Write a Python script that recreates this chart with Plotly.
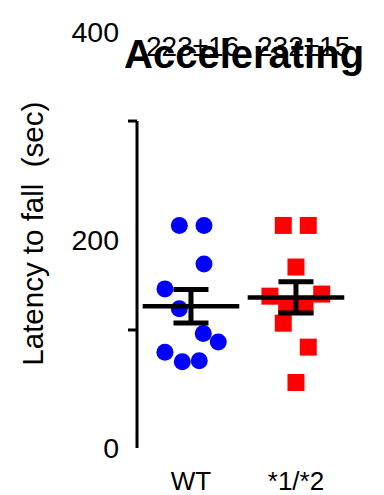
import numpy as np
import plotly.graph_objects as go

# ---- data ----
groups = ["WT", "*1/*2"]
wt_values = [214, 214, 177, 153, 134, 110, 102, 92, 83, 84]
wt_jitter = [-0.111, 0.124, 0.124, -0.248, -0.111, 0.117, 0.260, -0.248, -0.083, 0.079]
mut_values = [214, 214, 174, 146, 148, 136, 136, 120, 97, 63]
mut_jitter = [-0.121, 0.117, 0.0, -0.248, 0.245, -0.089, 0.086, -0.121, 0.117, 0.0]
summary_labels = ["223±16", "232±15"]
y_tickvals = [0, 200, 400]
y_ticktext = ["0", "200", "400"]
axis_marks = [113.5, 314.4]
title_text = "Accelerating"
y_title = "Latency to fall  (sec)"

FONT = "Liberation Sans, Arial, Helvetica, sans-serif"

fig = go.Figure()

series = [
    (0, wt_values, wt_jitter, "#0000FF", "circle"),
    (1, mut_values, mut_jitter, "#FF0000", "square"),
]
for pos, vals, jit, col, sym in series:
    fig.add_trace(go.Scatter(
        x=[pos + j for j in jit], y=vals, mode="markers",
        marker=dict(symbol=sym, size=17, color=col, line=dict(width=0)),
        showlegend=False, hoverinfo="skip"))

for pos, vals, jit, col, sym in series:
    arr = np.array(vals, dtype=float)
    mean = arr.mean()
    sem = arr.std(ddof=1) / np.sqrt(len(arr))
    fig.add_trace(go.Scatter(
        x=[pos], y=[mean], mode="markers",
        marker=dict(symbol="line-ew", size=69, color="black",
                    line=dict(width=4.5, color="black")),
        error_y=dict(type="data", array=[sem], visible=True,
                     thickness=5, width=17.5, color="black"),
        showlegend=False, hoverinfo="skip"))

# axis line with its marks
fig.add_shape(type="line", xref="paper", yref="y", x0=0, x1=0,
              y0=0, y1=max(axis_marks), line=dict(color="black", width=3))
for m in axis_marks:
    fig.add_shape(type="line", xref="paper", yref="y", xsizemode="pixel",
                  xanchor=0, x0=-9, x1=0, y0=m, y1=m,
                  line=dict(color="black", width=3))

fig.add_annotation(text=f"<b>{title_text}</b>", xref="paper", yref="paper",
                   x=0.459, y=0.946, xanchor="center", yanchor="middle",
                   showarrow=False,
                   font=dict(family=FONT, size=40, color="black"))
for pos, lab, shift in zip([0, 1], summary_labels, [2, 8]):
    fig.add_annotation(text=lab, xref="x", yref="paper", x=pos, xshift=shift,
                       y=0.966, xanchor="center", yanchor="middle",
                       showarrow=False,
                       font=dict(family=FONT, size=28, color="black"))
fig.add_annotation(text=y_title, xref="paper", yref="paper", x=0, xshift=-104.5,
                   y=0.514, xanchor="center", yanchor="middle",
                   textangle=-90, showarrow=False,
                   font=dict(family=FONT, size=29.5, color="black"))

fig.update_layout(
    width=384, height=495,
    margin=dict(l=129, r=22, t=24, b=55),
    paper_bgcolor="white", plot_bgcolor="white",
    font=dict(family=FONT, color="black"),
    xaxis=dict(range=[-0.514, 1.705], tickvals=[0, 1], ticktext=groups,
               showline=False, ticks="", showgrid=False, zeroline=False,
               tickfont=dict(size=26), ticklabelstandoff=15, automargin=False),
    yaxis=dict(range=[0, 400], tickvals=y_tickvals, ticktext=y_ticktext,
               showline=False, ticks="", showgrid=False, zeroline=False,
               tickfont=dict(size=28.5), ticklabelstandoff=17, automargin=False),
)

fig.write_html("out.html")
